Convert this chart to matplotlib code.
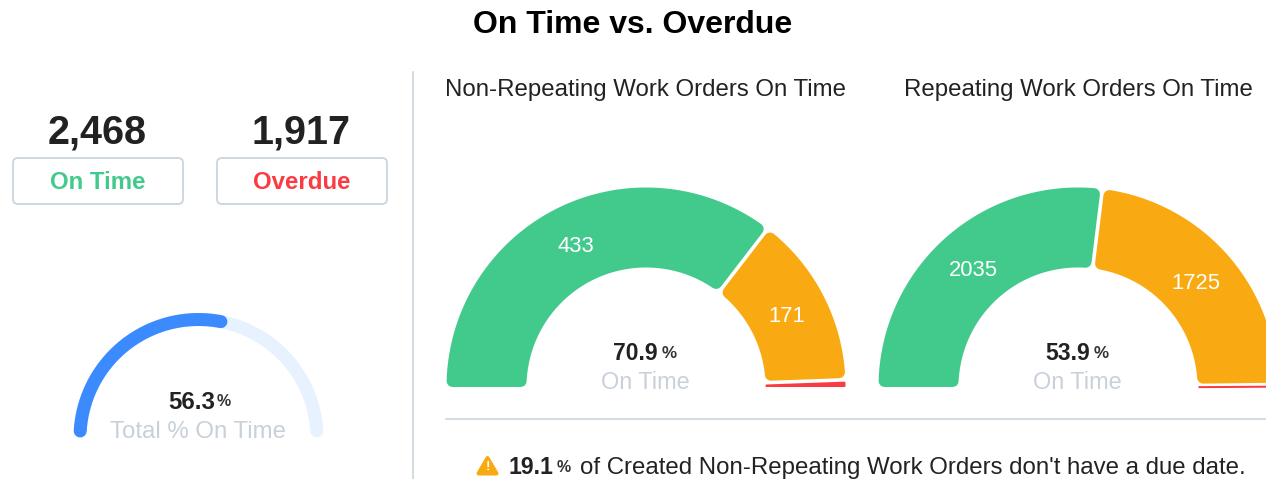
import numpy as np
import matplotlib
matplotlib.use("Agg")
import matplotlib.pyplot as plt
from matplotlib.patches import FancyBboxPatch, Polygon

plt.rcParams["font.family"] = ["Liberation Sans", "DejaVu Sans"]

# data
on_time_total = "2,468"
overdue_total = "1,917"
total_pct = 56.3
non_repeating = [433, 171, 7]
repeating = [2035, 1725, 15]
non_repeating_pct = "70.9"
repeating_pct = "53.9"
no_due_pct = "19.1"

GREEN = "#42ca8c"
ORANGE = "#f9aa12"
RED = "#fb3b42"
BLUE = "#3b8bff"
LIGHT_BLUE = "#e8f2ff"
GREY = "#c8d0d9"
DARK = "#222222"
LINE = "#ccd4dc"

# axes in pixels, y pointing down like the reference
fig = plt.figure(figsize=(12.66, 4.79), dpi=100)
ax = fig.add_axes([0, 0, 1, 1])
ax.set_xlim(0, 1266)
ax.set_ylim(479, 0)
ax.axis("off")


def px(v):
    return v * 0.72


def fs(v):
    # font size from em height in pixels
    return v * 0.72


def segment(cx, cy, r0, r1, a0, a1, corner, gap0, gap1, color):
    # ring segment with rounded corners: shrink the shape, then stroke it round
    pts = []
    ro = r1 - corner
    ri = r0 + corner
    for r, rev in ((ro, False), (ri, True)):
        lo = a0 + np.degrees(np.arcsin((corner + gap0) / r))
        hi = a1 - np.degrees(np.arcsin((corner + gap1) / r))
        if hi < lo:
            lo = hi = (lo + hi) / 2
        t = np.radians(np.linspace(lo, hi, 80))
        if rev:
            t = t[::-1]
        pts.append(np.column_stack([cx + r * np.cos(t), cy - r * np.sin(t)]))
    ax.add_patch(Polygon(np.vstack(pts), closed=True, facecolor=color, edgecolor=color,
                         linewidth=px(2 * corner), joinstyle="round"))


def gauge(cx, cy, values, pct):
    colors = [GREEN, ORANGE, RED]
    total = sum(values)
    a = 180.0
    for i, v in enumerate(values):
        span = 180.0 * v / total
        a0 = a - span
        corner = 6 if span > 10 else 1.0
        segment(cx, cy, 119.5, 199.5, a0, a, corner, 0 if i == 2 else 1.8, 0 if i == 0 else 1.8, colors[i])
        if i < 2:
            mid = np.radians(a - span / 2)
            ax.text(cx + 158.5 * np.cos(mid), cy - 158.5 * np.sin(mid) + 2, str(v), color="white",
                    fontsize=fs(22), ha="center", va="center")
        a = a0
    ax.text(cx + 12, cy - 27, pct, color=DARK, fontsize=fs(23), fontweight="bold", ha="right", va="baseline")
    ax.text(cx + 16, cy - 29, "%", color="#333333", fontsize=fs(17), fontweight="bold", ha="left", va="baseline")
    ax.text(cx - 1, cy + 2, "On Time", color=GREY, fontsize=fs(23.5), ha="center", va="baseline")


def card(x, label, color, value):
    ax.add_patch(FancyBboxPatch((x + 5, 163), 160, 36, boxstyle="round,pad=5,rounding_size=5",
                                facecolor="white", edgecolor=LINE, linewidth=1.3))
    ax.text(x + 85, 189, label, color=color, fontsize=fs(24), fontweight="bold", ha="center", va="baseline")
    ax.text(x + 84, 144, value, color=DARK, fontsize=fs(39.5), fontweight="bold", ha="center", va="baseline")


# title and separators
ax.text(633, 33, "On Time vs. Overdue", color="black", fontsize=fs(32), fontweight="bold", ha="center", va="baseline")
ax.plot([413, 413], [72, 479], color=LINE, lw=1.2)
ax.plot([446, 1266], [419, 419], color=LINE, lw=1.2)

# left column
card(13, "On Time", GREEN, on_time_total)
card(217, "Overdue", RED, overdue_total)

cx, cy, r = 198.5, 438, 118.5
start, end = 176.6, 3.4
t = np.radians(np.linspace(start, end, 200))
ax.plot(cx + r * np.cos(t), cy - r * np.sin(t), color=LIGHT_BLUE, lw=px(13), solid_capstyle="round")
t = np.radians(np.linspace(start, start - (start - end) * total_pct / 100, 200))
ax.plot(cx + r * np.cos(t), cy - r * np.sin(t), color=BLUE, lw=px(13), solid_capstyle="round")
ax.text(215, 409, str(total_pct), color=DARK, fontsize=fs(24), fontweight="bold", ha="right", va="baseline")
ax.text(217, 406, "%", color="#333333", fontsize=fs(16), fontweight="bold", ha="left", va="baseline")
ax.text(198.5, 438, "Total % On Time", color=GREY, fontsize=fs(24), ha="center", va="baseline")

# gauges
ax.text(645.5, 96, "Non-Repeating Work Orders On Time", color=DARK, fontsize=fs(24), ha="center", va="baseline")
ax.text(1078, 96, "Repeating Work Orders On Time", color=DARK, fontsize=fs(24), ha="center", va="baseline")
gauge(646, 387, non_repeating, non_repeating_pct)
gauge(1078, 387, repeating, repeating_pct)

# note at the bottom
ax.add_patch(Polygon([[487.5, 458], [478.5, 473.5], [496.5, 473.5]], closed=True, facecolor=ORANGE,
                     edgecolor=ORANGE, linewidth=px(4), joinstyle="round"))
ax.text(487.5, 470.5, "!", color="white", fontsize=fs(13), fontweight="bold", ha="center", va="baseline")
ax.text(509, 474, no_due_pct, color=DARK, fontsize=fs(23), fontweight="bold", ha="left", va="baseline")
ax.text(557, 472, "%", color="#333333", fontsize=fs(16), fontweight="bold", ha="left", va="baseline")
ax.text(580, 474, "of Created Non-Repeating Work Orders don't have a due date.", color=DARK,
        fontsize=fs(24), ha="left", va="baseline")

fig.savefig("out.png", dpi=100)
